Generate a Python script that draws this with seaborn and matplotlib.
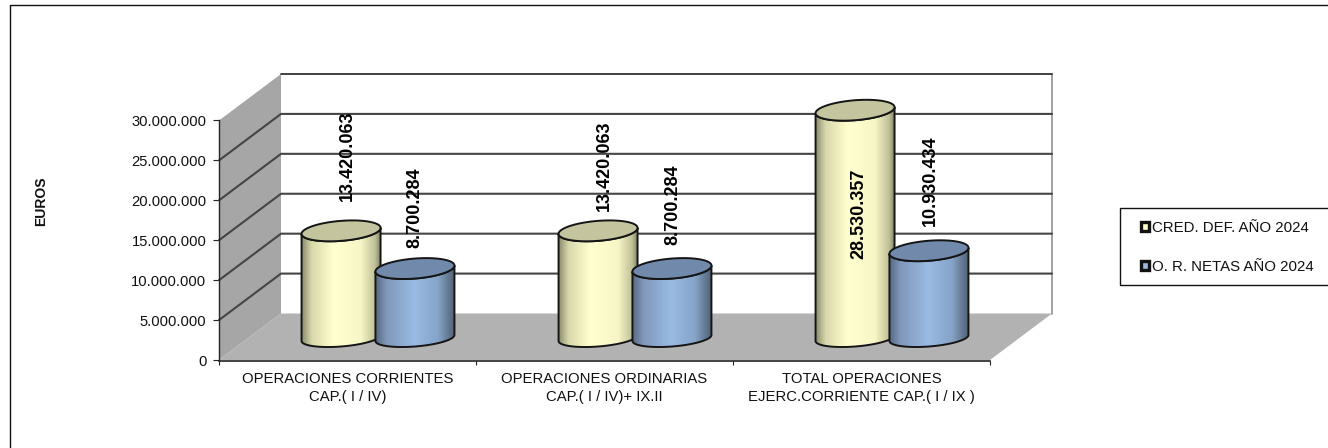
import numpy as np
import pandas as pd
import seaborn as sns
import matplotlib.pyplot as plt
from matplotlib.colors import LinearSegmentedColormap
from matplotlib.lines import Line2D
from matplotlib.patches import Patch, Polygon, Rectangle

categories = ["OPERACIONES CORRIENTES\nCAP.( I / IV)",
              "OPERACIONES ORDINARIAS\nCAP.( I / IV)+ IX.II",
              "TOTAL OPERACIONES\nEJERC.CORRIENTE CAP.( I / IX )"]
series_names = ["CRED. DEF. AÑO 2024", "O. R. NETAS AÑO 2024"]
cred_def = [13420063, 13420063, 28530357]
or_netas = [8700284, 8700284, 10930434]
y_ticks = [0, 5000000, 10000000, 15000000, 20000000, 25000000, 30000000]

W, H = 1328, 448

df = pd.DataFrame({
    "cat": categories * 2,
    "serie": [series_names[0]] * 3 + [series_names[1]] * 3,
    "valor": cred_def + or_netas,
})


def miles(v):
    return f"{v:,.0f}".replace(",", ".")


sns.set_theme(style="white")
plt.rcParams["font.family"] = ["Liberation Sans", "DejaVu Sans"]

fig = plt.figure(figsize=(W / 100, H / 100), dpi=100)
# front plane of the fake 3d box
ax = fig.add_axes([219 / W, (H - 360) / H, (990 - 219) / W, (360 - 120.5) / H])
ax.patch.set_alpha(0)

sns.barplot(data=df, x="cat", y="valor", hue="serie", width=0.575, gap=0, legend=False,
            palette=["#FFFFCC", "#99B9E2"], ax=ax)
bars = list(ax.patches)
ax.set_xlim(-0.5, 2.5)
ax.set_ylim(0, 30000000)

# one pixel in data units
px = 3 / (990 - 219)
py = 30000000 / (360 - 120.5)
depth_x = 62 * px
depth_y = 46.5 * py

# walls and floor
ax.add_patch(Polygon([(-0.5, 0), (-0.5 + depth_x, depth_y), (-0.5 + depth_x, 30000000 + depth_y), (-0.5, 30000000)],
                     closed=True, fc="#A6A6A6", ec="none", clip_on=False, zorder=0.5))
ax.add_patch(Polygon([(-0.5, 0), (2.5, 0), (2.5 + depth_x, depth_y), (-0.5 + depth_x, depth_y)],
                     closed=True, fc="#B2B2B2", ec="none", clip_on=False, zorder=0.5))
ax.plot([2.5 + depth_x, 2.5 + depth_x], [30000000 + depth_y, depth_y],
        color="#A0A0A0", lw=1.4, clip_on=False, zorder=0.6)
for v in y_ticks[1:-1]:
    ax.plot([-0.5, -0.5 + depth_x, 2.5 + depth_x], [v, v + depth_y, v + depth_y],
            color="#454545", lw=1.5, clip_on=False, zorder=0.7)
ax.plot([-0.5 + depth_x, 2.5 + depth_x], [30000000 + depth_y] * 2, color="#333333", lw=1.3,
        clip_on=False, zorder=0.7)

yellow = LinearSegmentedColormap.from_list("y", [(0, "#8F8F70"), (0.12, "#D8D8AC"), (0.4, "#FFFFCF"),
                                                 (0.75, "#F6F6C6"), (0.93, "#C0C098"), (1, "#808066")])
blue = LinearSegmentedColormap.from_list("b", [(0, "#56687F"), (0.14, "#7F97BA"), (0.5, "#9ABBE3"),
                                               (0.8, "#86A3C8"), (1, "#536578")])
maps = {0: yellow, 1: blue}
tops = {0: "#C4C49E", 1: "#718AAC"}
a = 39.5 * px
b = 10 * py
b_low = 8.5 * py
tilt = 3 * py  # right side sits a bit higher
t = np.linspace(0, np.pi, 80)
label_gap = [20, 10, -159, 11, 14, 15]
label_dx = [1, 1, -1, 0, 1, 1]

for i, bar in enumerate(bars):
    bar.set_visible(False)
    serie = i // 3
    cx = bar.get_x() + bar.get_width() / 2 + 30.5 * px
    y0 = 22 * py
    y1 = y0 + bar.get_height()
    # lower half of the two ellipses
    xs = cx + a * np.cos(t)
    low0 = y0 + tilt * np.cos(t) - b_low * np.sin(t)
    low1 = y1 + tilt * np.cos(t) - b * np.sin(t)
    up1 = y1 + tilt * np.cos(t) + b * np.sin(t)
    body = Polygon(np.r_[np.c_[xs, low0], np.c_[xs[::-1], low1[::-1]]], closed=True, fc="none",
                   ec="#151515", lw=1.4, zorder=3 + i % 3 * 2 + serie * 0.5 + 0.1, clip_on=False)
    ax.add_patch(body)
    img = ax.imshow(np.linspace(0, 1, 200)[None, :], cmap=maps[serie], aspect="auto",
                    extent=(cx - a, cx + a, 0, 30000000 + depth_y), zorder=body.get_zorder() - 0.05)
    img.set_clip_box(fig.bbox)
    img.set_clip_path(body)
    ax.add_patch(Polygon(np.r_[np.c_[xs, low1], np.c_[xs[::-1], up1[::-1]]], closed=True, fc=tops[serie],
                         ec="#151515", lw=1.4, zorder=body.get_zorder() + 0.01, clip_on=False))
    ax.text(cx + (5 + label_dx[i]) * px if serie == 0 else cx + label_dx[i] * px, y1 + b + label_gap[i] * py,
            miles(bar.get_height()), rotation=90, ha="center", va="bottom", fontsize=13, fontweight="bold",
            color="black", zorder=20, clip_on=False)

ax.set_xlim(-0.5, 2.5)
ax.set_ylim(0, 30000000)

# axes and ticks
sns.despine(ax=ax)
for s in ["left", "bottom"]:
    ax.spines[s].set_color("#222222")
    ax.spines[s].set_zorder(10)
ax.spines["left"].set_linewidth(1.0)
ax.spines["bottom"].set_linewidth(1.2)
ax.spines["bottom"].set_position(("outward", 0.8))
ax.set_yticks(y_ticks)
ax.set_yticklabels([miles(v) for v in y_ticks], fontsize=10.6, color="#111111")
ax.set_xticks([0, 1, 2])
ax.set_xticklabels(categories, fontsize=10.7, color="#111111", linespacing=1.3)
ax.set_xticks([-0.5, 0.5, 1.5, 2.5], minor=True)
ax.tick_params(axis="x", which="major", length=0, pad=8)
ax.tick_params(axis="x", which="minor", bottom=True, length=3, width=0.8, color="#222222", direction="out")
ax.tick_params(axis="y", left=True, length=4, width=0.8, color="#222222", pad=5)
ax.set_xlabel("")
ax.set_ylabel("")

fig.text(41 / W, 1 - 201 / H, "EUROS", rotation=90, ha="center", va="center", fontsize=10, fontweight="bold",
         color="#111111")

# outer frame, only top and left are inside the picture
fig.add_artist(Line2D([10 / W, 10 / W, 1], [0, 1 - 5 / H, 1 - 5 / H], color="#111111", lw=1.0))

# legend box runs off the right edge of the picture
fig.add_artist(Rectangle((1120 / W, 1 - 285 / H), 230 / W, 77 / H, transform=fig.transFigure,
                         fc="white", ec="#111111", lw=1.0))
handles = [Patch(fc="#FFFFCC", ec="#111111", lw=2.4), Patch(fc="#99B9E2", ec="#111111", lw=2.4)]
leg = fig.legend(handles, series_names, loc="center left", bbox_to_anchor=(1141 / W, 1 - 247.3 / H),
                 frameon=False, fontsize=10.8, handlelength=0.5, handleheight=0.5, handletextpad=0.25,
                 labelspacing=1.65, borderpad=0, borderaxespad=0)
for txt in leg.get_texts():
    txt.set_color("#111111")

fig.savefig("out.png", dpi=100)
